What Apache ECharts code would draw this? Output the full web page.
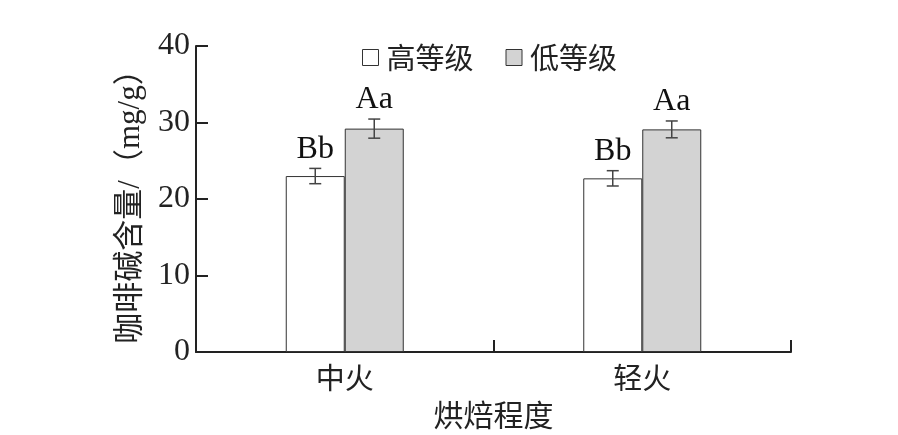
<!DOCTYPE html>
<html>
<head>
<meta charset="utf-8">
<script src="https://cdn.jsdelivr.net/npm/echarts@6/dist/echarts.min.js"></script>
<style>html,body{margin:0;padding:0;background:#fff;}#c{width:898px;height:435px;}</style>
</head>
<body>
<div id="c"></div>
<script>
var categories = ['中火', '轻火'];
var seriesNames = ['高等级', '低等级'];
var highValues = [23.0, 22.7];
var lowValues = [29.2, 29.1];
var highErrors = [1.0, 1.0];
var lowErrors = [1.25, 1.1];
var highLabels = ['Bb', 'Bb'];
var lowLabels = ['Aa', 'Aa'];
var yTicks = [0, 10, 20, 30, 40];

var FONT = '"Liberation Serif", "Noto Sans CJK SC", serif';
var CJK = '"Noto Sans CJK SC", "Liberation Serif", sans-serif';
var chart = echarts.init(document.getElementById('c'));

function errSeries(values, errors, labels, offsetSign) {
  var data = values.map(function (v, i) { return [i, v, errors[i]]; });
  return {
    type: 'custom',
    z: 10,
    data: data,
    encode: { x: 0, y: [1] },
    renderItem: function (params, api) {
      var xi = api.value(0), v = api.value(1), e = api.value(2);
      var barW = 59;
      var c = api.coord([xi, v]);
      var x = c[0] + offsetSign * barW / 2;
      var top = api.coord([xi, v + e])[1];
      var bot = api.coord([xi, v - e])[1];
      var cap = 6;
      var st = { stroke: '#444', lineWidth: 1.5 };
      return {
        type: 'group',
        children: [
          { type: 'line', shape: { x1: x, y1: top, x2: x, y2: bot }, style: st },
          { type: 'line', shape: { x1: x - cap, y1: top, x2: x + cap, y2: top }, style: st },
          { type: 'line', shape: { x1: x - cap, y1: bot, x2: x + cap, y2: bot }, style: st },
          { type: 'text', style: { text: labels[params.dataIndex], x: x, y: top - 3, textAlign: 'center', textVerticalAlign: 'bottom', fontFamily: FONT, fontSize: 32, fill: '#111' } }
        ]
      };
    },
    tooltip: { show: false }
  };
}

chart.setOption({
  animation: false,
  grid: { left: 196, right: 107, top: 46, bottom: 80 },
  legend: {
    data: [
      { name: seriesNames[0], itemStyle: { color: '#fff', borderColor: '#333', borderWidth: 1 } },
      { name: seriesNames[1], itemStyle: { color: '#d3d3d3', borderColor: '#333', borderWidth: 1 } }
    ],
    left: 357, top: 38,
    icon: 'rect', itemWidth: 16, itemHeight: 16, itemGap: 32,
    textStyle: { fontFamily: CJK, fontSize: 29, color: '#222', padding: [0, 0, 0, 3] }
  },
  xAxis: {
    type: 'category',
    data: categories,
    name: '烘焙程度',
    nameLocation: 'middle',
    nameGap: 48,
    nameTextStyle: { fontFamily: CJK, fontSize: 30, color: '#222' },
    axisLine: { lineStyle: { color: '#222', width: 2 } },
    axisTick: { show: true, interval: 0, inside: true, length: 12, lineStyle: { color: '#222', width: 2 } },
    axisLabel: { fontFamily: CJK, fontSize: 29, color: '#222', margin: 11 }
  },
  yAxis: {
    type: 'value',
    min: yTicks[0], max: yTicks[yTicks.length - 1], interval: 10,
    name: '咖啡碱含量/（mg/g）',
    nameLocation: 'middle',
    nameRotate: 90,
    nameGap: 50,
    nameTextStyle: { fontFamily: FONT, fontSize: 31, color: '#222' },
    splitLine: { show: false },
    axisLine: { show: true, lineStyle: { color: '#222', width: 2 } },
    axisTick: { show: true, inside: true, length: 12, lineStyle: { color: '#222', width: 2 } },
    axisLabel: { fontFamily: FONT, fontSize: 32, color: '#222', margin: 6 }
  },
  series: [
    { name: seriesNames[0], type: 'bar', data: highValues, barWidth: 59, barGap: '0%',
      itemStyle: { color: '#fff', borderColor: '#333', borderWidth: 1 } },
    { name: seriesNames[1], type: 'bar', data: lowValues, barWidth: 59, barGap: '0%',
      itemStyle: { color: '#d3d3d3', borderColor: '#333', borderWidth: 1 } },
    errSeries(highValues, highErrors, highLabels, -1),
    errSeries(lowValues, lowErrors, lowLabels, 1)
  ]
});
</script>
</body>
</html>
